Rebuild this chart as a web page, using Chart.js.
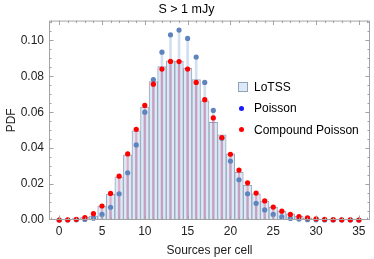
<!DOCTYPE html>
<html>
<head>
<meta charset="utf-8">
<script src="https://cdn.jsdelivr.net/npm/chart.js@4.4.0/dist/chart.umd.min.js"></script>
<style>
  html, body { margin: 0; padding: 0; background: #fff; }
  #wrap { position: relative; width: 374px; height: 259px; }
  .lg { position: absolute; font: 12px "Liberation Sans", Arial, sans-serif; color: #000; line-height: 14px; white-space: nowrap; }
  .sq { position: absolute; width: 8px; height: 8px; background: #dde9f6; border: 1px solid #8ea3b8; }
  .dot { position: absolute; width: 5px; height: 5px; border-radius: 50%; }
</style>
</head>
<body>
<div id="wrap">
  <canvas id="pdfChart" width="374" height="259"></canvas>
  <div class="sq" style="left:238px;top:82px;"></div>
  <div class="lg" style="left:254px;top:80px;">LoTSS</div>
  <div class="dot" style="left:239px;top:106px;background:#1a1aff;"></div>
  <div class="lg" style="left:254px;top:101px;">Poisson</div>
  <div class="dot" style="left:239px;top:127px;background:#ff0000;"></div>
  <div class="lg" style="left:254px;top:123px;">Compound Poisson</div>
</div>
<script>
'use strict';

// ── Data ──────────────────────────────────────────────────
const sources = [0, 1, 2, 3, 4, 5, 6, 7, 8, 9, 10, 11, 12, 13, 14, 15, 16, 17,
                 18, 19, 20, 21, 22, 23, 24, 25, 26, 27, 28, 29, 30, 31, 32, 33, 34, 35];
const lotss = [0, 0.0002, 0.0008, 0.0016, 0.0022, 0.0077, 0.0143, 0.0241, 0.0363, 0.0497,
               0.0628, 0.0771, 0.0854, 0.0886, 0.0885, 0.0844, 0.0781, 0.0663, 0.0544, 0.0474,
               0.0369, 0.0265, 0.0193, 0.0146, 0.0105, 0.0072, 0.0050, 0.0035, 0.0020, 0.0012,
               0.0007, 0.0004, 0.0002, 0.0001, 0.0001, 0];
const poisson = [0, 0, 0.0001, 0.0003, 0.0010, 0.0031, 0.0071, 0.0146, 0.0263, 0.0418,
                 0.0600, 0.0782, 0.0934, 0.1031, 0.1057, 0.1011, 0.0907, 0.0766, 0.0610, 0.0455,
                 0.0328, 0.0224, 0.0146, 0.0093, 0.0056, 0.0031, 0.0017, 0.0009, 0.0005, 0.0002,
                 0.0001, 0, 0, 0, 0, 0];
const compound = [0, 0.0001, 0.0004, 0.0013, 0.0035, 0.0078, 0.0148, 0.0244, 0.0368, 0.0505,
                  0.0638, 0.0756, 0.0840, 0.0883, 0.0882, 0.0840, 0.0766, 0.0670, 0.0568, 0.0459,
                  0.0366, 0.0278, 0.0207, 0.0150, 0.0106, 0.0072, 0.0049, 0.0031, 0.0019, 0.0012,
                  0.0007, 0.0004, 0.0002, 0.0001, 0.0001, 0];
const xTicks = [0, 5, 10, 15, 20, 25, 30, 35];
const yTicks = [0, 0.02, 0.04, 0.06, 0.08, 0.10];

const pts   = arr => sources.map((s, i) => ({ x: s, y: arr[i] }));
const stems = arr => sources.map((s, i) => ({ x: s, y: [0, arr[i]] }));

const FONT = "'Liberation Sans', Arial, sans-serif";

// ── Frame with inward ticks (Mathematica style) ───────────
const frameTicks = {
    id: 'frameTicks',
    afterDatasetsDraw(chart) {
        const { ctx, chartArea: a, scales: { x, y } } = chart;
        ctx.save();
        ctx.strokeStyle = '#a3a3a3';
        ctx.lineWidth = 1;
        ctx.strokeRect(a.left + 0.5, a.top + 0.5, a.width - 1, a.height - 1);
        ctx.beginPath();
        for (let v = sources[0] - 1; v <= sources[sources.length - 1] + 1; v++) {
            const px = Math.round(x.getPixelForValue(v)) + 0.5;
            if (px <= a.left + 1 || px >= a.right - 1) continue;
            const len = v % 5 === 0 ? 4.5 : 2.5;
            ctx.moveTo(px, a.bottom); ctx.lineTo(px, a.bottom - len);
            ctx.moveTo(px, a.top);    ctx.lineTo(px, a.top + len);
        }
        for (let k = 0; k <= 22; k++) {
            const py = Math.round(y.getPixelForValue(k * 0.005)) + 0.5;
            if (py <= a.top + 1 || py >= a.bottom - 1) continue;
            const len = k % 4 === 0 ? 4.5 : 2.5;
            ctx.moveTo(a.left, py);  ctx.lineTo(a.left + len, py);
            ctx.moveTo(a.right, py); ctx.lineTo(a.right - len, py);
        }
        ctx.stroke();
        ctx.restore();
    }
};

// ── Chart ─────────────────────────────────────────────────
new Chart(document.getElementById('pdfChart').getContext('2d'), {
    type: 'bar',
    data: {
        datasets: [
            {
                label: 'Compound Poisson',
                type: 'scatter',
                data: pts(compound),
                backgroundColor: '#ff0000',
                borderWidth: 0,
                pointRadius: 2.6,
                clip: false,
                order: 0,
            },
            {
                label: 'Poisson',
                type: 'scatter',
                data: pts(poisson),
                backgroundColor: '#5f83bd',
                borderWidth: 0,
                pointRadius: 2.6,
                clip: false,
                order: 1,
            },
            {
                label: 'CP stems',
                data: stems(compound),
                backgroundColor: 'rgba(225,70,110,0.35)',
                barThickness: 1.5,
                grouped: false,
                order: 2,
            },
            {
                label: 'Poisson stems',
                data: stems(poisson),
                backgroundColor: 'rgba(110,150,210,0.3)',
                barThickness: 2,
                grouped: false,
                order: 3,
            },
            {
                label: 'LoTSS',
                data: pts(lotss),
                backgroundColor: '#dde9f6',
                borderColor: '#97a8ba',
                borderWidth: 1,
                barPercentage: 1,
                categoryPercentage: 1,
                grouped: false,
                order: 4,
            },
        ]
    },
    options: {
        responsive: false,
        animation: false,
        events: [],
        layout: { padding: { left: 0, right: 1, top: 0, bottom: 0 } },
        plugins: {
            legend: { display: false },
            tooltip: { enabled: false },
            title: {
                display: true,
                text: 'S > 1 mJy',
                color: '#000',
                font: { family: FONT, size: 12.5, weight: 'normal' },
                padding: { top: 2, bottom: 3.6 },
            },
        },
        scales: {
            x: {
                type: 'linear',
                min: -1.19,
                max: 36.3,
                offset: false,
                grid: { display: false, drawTicks: false },
                border: { display: false },
                afterBuildTicks: s => { s.ticks = xTicks.map(v => ({ value: v })); },
                afterFit: s => { s.height = 39; },
                ticks: { padding: 4, color: '#222', maxRotation: 0, font: { family: FONT, size: 12 } },
                title: {
                    display: true,
                    text: 'Sources per cell',
                    color: '#222',
                    font: { family: FONT, size: 12 },
                    padding: { top: 0, bottom: 1 },
                },
            },
            y: {
                min: 0,
                max: 0.111,
                grid: { display: false, drawTicks: false },
                border: { display: false },
                afterBuildTicks: s => { s.ticks = yTicks.map(v => ({ value: v })); },
                afterFit: s => { s.width = 49; },
                ticks: { padding: 5, color: '#222', font: { family: FONT, size: 12 }, callback: v => v.toFixed(2) },
                title: {
                    display: true,
                    text: 'PDF',
                    color: '#222',
                    font: { family: FONT, size: 12 },
                    padding: { top: 4, bottom: 0 },
                },
            },
        }
    },
    plugins: [frameTicks]
});
</script>
</body>
</html>
